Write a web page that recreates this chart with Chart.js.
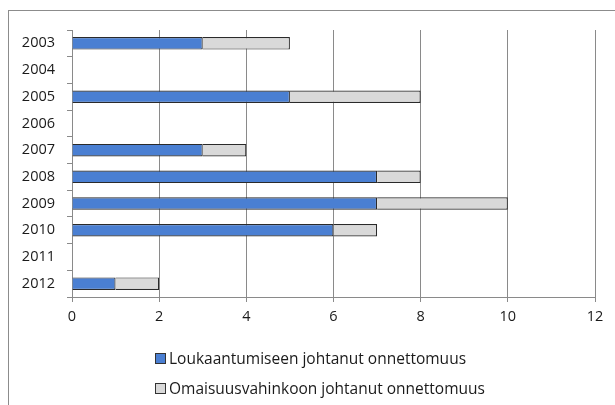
<!DOCTYPE html>
<html><head><meta charset="utf-8">
<script src="https://cdn.jsdelivr.net/npm/chart.js@4/dist/chart.umd.min.js"></script>
<style>
html,body{margin:0;padding:0;background:#fff;width:615px;height:405px;overflow:hidden;}
#wrap{position:relative;width:615px;height:405px;}
#frame{position:absolute;left:8px;top:10px;width:620px;height:420px;border:1px solid #8c8c8c;box-sizing:border-box;}
canvas{position:absolute;left:0;top:0;}
.leg{position:absolute;left:155px;font-family:"Open Sans",sans-serif;font-size:15.5px;color:#1a1a1a;display:flex;align-items:center;white-space:nowrap;}
.sw{width:9px;height:9px;border:1px solid #333;margin-right:3px;}
</style></head>
<body><div id="wrap"><div id="frame"></div><canvas id="c" width="615" height="405"></canvas>
<div id="legend"></div></div>
<script>
const years = ['2003','2004','2005','2006','2007','2008','2009','2010','2011','2012'];
const injury = [3, null, 5, null, 3, 7, 7, 6, null, 1];
const property = [2, null, 3, null, 1, 1, 3, 1, null, 1];
const seriesNames = ['Loukaantumiseen johtanut onnettomuus','Omaisuusvahinkoon johtanut onnettomuus'];
const xTicks = [0,2,4,6,8,10,12];
const colors = ['#4a7fd2','#d9d9d9'];

const font = {family:'"Open Sans", sans-serif', size:14.5};
new Chart(document.getElementById('c'), {
  type:'bar',
  data:{labels:years, datasets:[
    {label:seriesNames[0], data:injury, backgroundColor:colors[0], borderColor:'#2a2a2a', borderWidth:1.2, barPercentage:0.47, categoryPercentage:1},
    {label:seriesNames[1], data:property, backgroundColor:colors[1], borderColor:'#2a2a2a', borderWidth:1.2, barPercentage:0.47, categoryPercentage:1}
  ]},
  options:{
    indexAxis:'y', responsive:false, animation:false, devicePixelRatio:1,
    layout:{padding:{left:8,top:30,right:20,bottom:78}},
    plugins:{legend:{display:false}, tooltip:{enabled:false}},
    scales:{
      x:{stacked:true, min:0, max:12,
        afterBuildTicks:s=>{s.ticks = xTicks.map(v=>({value:v}));},
        afterFit:s=>{s.height=30;},
        grid:{color:'#8a8a8a', lineWidth:1, tickLength:5},
        border:{color:'#8a8a8a'},
        ticks:{color:'#1a1a1a', font:font, padding:6}},
      y:{stacked:true,
        afterFit:s=>{s.width=64;},
        grid:{drawOnChartArea:false, color:'#8a8a8a', tickLength:5, offset:true},
        border:{color:'#8a8a8a'},
        ticks:{color:'#1a1a1a', font:font, padding:12}}
    }
  }
});
const lg = document.getElementById('legend');
seriesNames.forEach((n,i)=>{
  const d=document.createElement('div'); d.className='leg'; d.style.top=(347+i*30)+'px';
  d.innerHTML='<span class="sw" style="background:'+colors[i]+'"></span><span></span>';
  d.lastChild.textContent=n; lg.appendChild(d);
});
</script></body></html>
